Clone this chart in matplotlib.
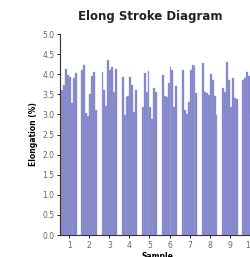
import numpy as np
import matplotlib.pyplot as plt

samples = [1, 2, 3, 4, 5, 6, 7, 8, 9, 10]
elong = [
    [3.60, 3.72, 4.12, 3.98, 3.92, 3.28, 3.90, 4.02],
    [4.10, 4.23, 3.03, 2.97, 3.50, 3.95, 4.05, 3.10],
    [4.05, 3.60, 3.20, 4.35, 4.10, 4.18, 3.55, 4.13],
    [3.94, 2.98, 3.43, 3.45, 3.94, 3.73, 3.06, 3.60],
    [3.19, 4.04, 3.56, 4.08, 3.19, 2.89, 3.65, 3.56],
    [3.98, 3.46, 3.44, 3.78, 4.18, 4.10, 3.19, 3.70],
    [4.10, 3.10, 3.00, 3.30, 4.10, 4.23, 4.20, 3.53],
    [4.27, 3.56, 3.53, 3.48, 4.00, 3.85, 3.45, 2.98],
    [3.65, 3.56, 4.31, 3.86, 3.19, 3.90, 3.40, 3.38],
    [3.86, 3.90, 4.05, 3.95, 3.00, 3.30, 3.25, 3.60],
]

fig = plt.figure(figsize=(2.5, 2.57), dpi=100)
ax = fig.add_axes([0.24, 0.0856, 0.78, 0.782])

n = len(elong[0])
gw = 0.78
w = gw / n
for s, vals in zip(samples, elong):
    xs = s - gw / 2 + w * (np.arange(n) + 0.5)
    ax.bar(xs, vals, width=w, color='#7d81c7', edgecolor='#a3a6d8', linewidth=0.3)

ax.set_xlim(0.54, 10.26)
ax.set_ylim(0, 5)
ax.set_yticks(np.arange(0, 5.01, 0.5))
ax.set_yticklabels(['%.1f' % v for v in np.arange(0, 5.01, 0.5)])
ax.set_xticks(samples)
ax.tick_params(labelsize=5.5, labelcolor='#666666', length=2.5, width=0.6, pad=1.5)
for side in ['top', 'right']:
    ax.spines[side].set_visible(False)
for side in ['left', 'bottom']:
    ax.spines[side].set_linewidth(0.8)
    ax.spines[side].set_color('#333333')

ax.set_ylabel('Elongation (%)', fontsize=5.5, fontweight='bold', labelpad=3)
ax.set_xlabel('Sample', fontsize=5.5, fontweight='bold', labelpad=2)
fig.text(0.6, 0.935, 'Elong Stroke Diagram', ha='center', va='center',
         fontsize=8.5, fontweight='bold', color='#222222')

fig.savefig('out.png', dpi=100)
